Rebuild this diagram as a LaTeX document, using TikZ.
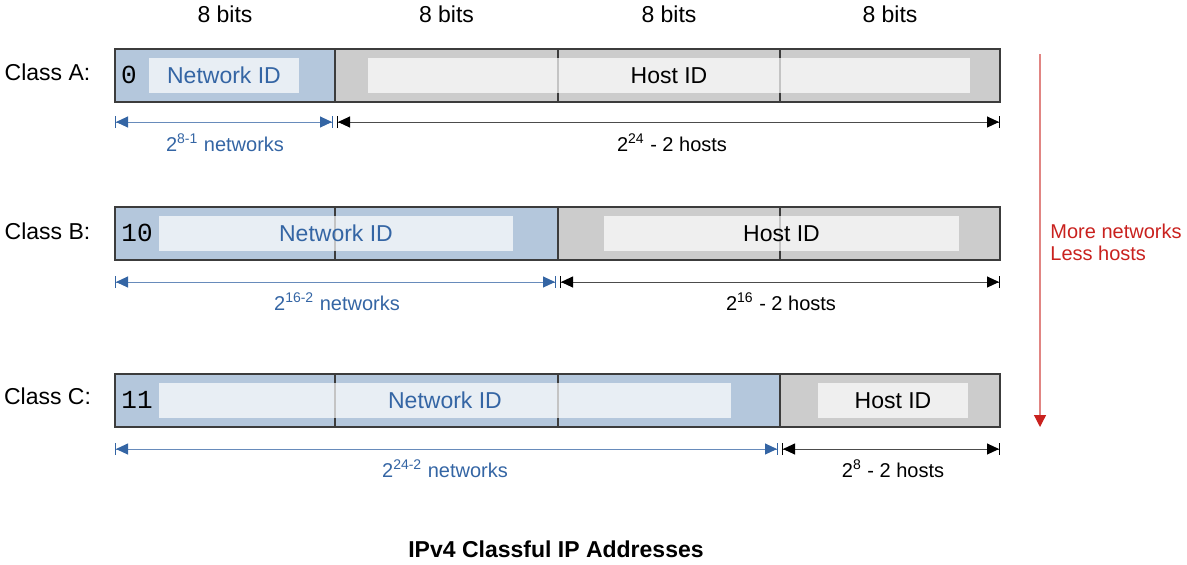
\documentclass[tikz,border=0pt]{standalone}
\usepackage{fontspec}
\setmainfont{Liberation Sans}
\newfontfamily\bitfont{Liberation Mono}
\usepackage{tikz}
\usetikzlibrary{arrows.meta}
\definecolor{netblue}{HTML}{B4C7DC}
\definecolor{hostgray}{HTML}{CCCCCC}
\definecolor{darkblue}{HTML}{3465A4}
\definecolor{darkred}{HTML}{C9211E}
\definecolor{boxline}{HTML}{3C3C3C}

\begin{document}
\begin{tikzpicture}[x=0.5pt,y=-0.5pt,
        font=\fontsize{11.5}{14}\selectfont,
        netpart/.style={fill=netblue,draw=boxline,line width=0.75pt},
        hostpart/.style={fill=hostgray,draw=boxline,line width=0.75pt},
        divider/.style={draw=boxline,line width=0.75pt},
        field/.style={fill=white,fill opacity=0.7,text opacity=1,inner sep=0pt,minimum height=17.5pt,text height=8pt,text depth=0pt},
        netfield/.style={field,text=darkblue},
        classbits/.style={font=\bitfont\fontsize{13}{15}\selectfont,inner sep=0pt,text height=8pt,text depth=0pt},
        netdim/.style={draw=darkblue!75,line width=0.5pt,
            arrows={{Bar[width=6pt,color=darkblue]Triangle[length=6pt,width=5.5pt,color=darkblue]}-{Triangle[length=6pt,width=5.5pt,color=darkblue]Bar[width=6pt,color=darkblue]}}},
        hostdim/.style={draw=black!70,line width=0.5pt,
            arrows={{Bar[width=6pt,color=black]Triangle[length=6pt,width=5.5pt,color=black]}-{Triangle[length=6pt,width=5.5pt,color=black]Bar[width=6pt,color=black]}}},
        dimlabel/.style={anchor=base,font=\fontsize{10}{12}\selectfont},
        trendlabel/.style={anchor=base west,inner sep=0pt,text=darkred,font=\fontsize{10}{12}\selectfont},
        ]

        % Khung ảnh
        \useasboundingbox (0,0) rectangle (1187,564);

        % Số bit của mỗi octet
        \node[anchor=base] (bitsA) at (225,22) {8 bits};
        \node[anchor=base] (bitsB) at (446.5,22) {8 bits};
        \node[anchor=base] (bitsC) at (669,22) {8 bits};
        \node[anchor=base] (bitsD) at (890,22) {8 bits};

        % Lớp A
        \node[anchor=base] (classA) at (47.5,80) {Class A:};
        \draw[netpart] (115,49) rectangle (335,102); % phần mạng
        \draw[hostpart] (335,49) rectangle (1000,102); % phần máy
        \draw[divider] (558,49) -- (558,102);
        \draw[divider] (780,49) -- (780,102);
        \node[classbits] (bitsOfA) at (129,75) {0};
        \node[netfield,minimum width=75pt] (netA) at (224,75) {Network ID};
        \node[field,minimum width=301pt] (hostA) at (669,75) {Host ID};
        \coordinate (aNetL) at (115,122);
        \coordinate (aNetR) at (333,122);
        \coordinate (aHostL) at (337,122);
        \coordinate (aHostR) at (1000,122);
        \draw[netdim] (aNetL) -- (aNetR); % số mạng
        \draw[hostdim] (aHostL) -- (aHostR); % số máy
        \node[dimlabel,text=darkblue] (aNets) at (225,151) {2\textsuperscript{8-1} networks};
        \node[dimlabel] (aHosts) at (672,151) {2\textsuperscript{24} - 2 hosts};

        % Lớp B
        \node[anchor=base] (classB) at (47.5,239) {Class B:};
        \draw[netpart] (115,207) rectangle (558,260); % phần mạng
        \draw[hostpart] (558,207) rectangle (1000,260); % phần máy
        \draw[divider] (335,207) -- (335,260);
        \draw[divider] (780,207) -- (780,260);
        \node[classbits] (bitsOfB) at (137,233.5) {10};
        \node[netfield,minimum width=177pt] (netB) at (336,233.5) {Network ID};
        \node[field,minimum width=177.5pt] (hostB) at (781.5,233.5) {Host ID};
        \coordinate (bNetL) at (115,282);
        \coordinate (bNetR) at (556,282);
        \coordinate (bHostL) at (560,282);
        \coordinate (bHostR) at (1000,282);
        \draw[netdim] (bNetL) -- (bNetR); % số mạng
        \draw[hostdim] (bHostL) -- (bHostR); % số máy
        \node[dimlabel,text=darkblue] (bNets) at (337,310) {2\textsuperscript{16-2} networks};
        \node[dimlabel] (bHosts) at (781,310) {2\textsuperscript{16} - 2 hosts};

        % Lớp C
        \node[anchor=base] (classC) at (47.5,404) {Class C:};
        \draw[netpart] (115,374) rectangle (780,427); % phần mạng
        \draw[hostpart] (780,374) rectangle (1000,427); % phần máy
        \draw[divider] (335,374) -- (335,427);
        \draw[divider] (558,374) -- (558,427);
        \node[classbits] (bitsOfC) at (137,400) {11};
        \node[netfield,minimum width=286pt] (netC) at (445,400) {Network ID};
        \node[field,minimum width=75pt] (hostC) at (893,400) {Host ID};
        \coordinate (cNetL) at (115,449);
        \coordinate (cNetR) at (778,449);
        \coordinate (cHostL) at (782,449);
        \coordinate (cHostR) at (1000,449);
        \draw[netdim] (cNetL) -- (cNetR); % số mạng
        \draw[hostdim] (cHostL) -- (cHostR); % số máy
        \node[dimlabel,text=darkblue] (cNets) at (445,477) {2\textsuperscript{24-2} networks};
        \node[dimlabel] (cHosts) at (893,477) {2\textsuperscript{8} - 2 hosts};

        % Mũi tên xu hướng
        \coordinate (trendTop) at (1040,54);
        \coordinate (trendBot) at (1040,427);
        \draw[draw=darkred!55,line width=0.6pt,-{Triangle[length=6pt,width=6pt,color=darkred]}] (trendTop) -- (trendBot);
        \node[trendlabel] (more) at (1050,238) {More networks};
        \node[trendlabel] (less) at (1050,260) {Less hosts};

        % Tiêu đề
        \node[anchor=base,font=\fontsize{11.5}{14}\selectfont\bfseries] (title) at (556,557) {IPv4 Classful IP Addresses};

\end{tikzpicture}
\end{document}
